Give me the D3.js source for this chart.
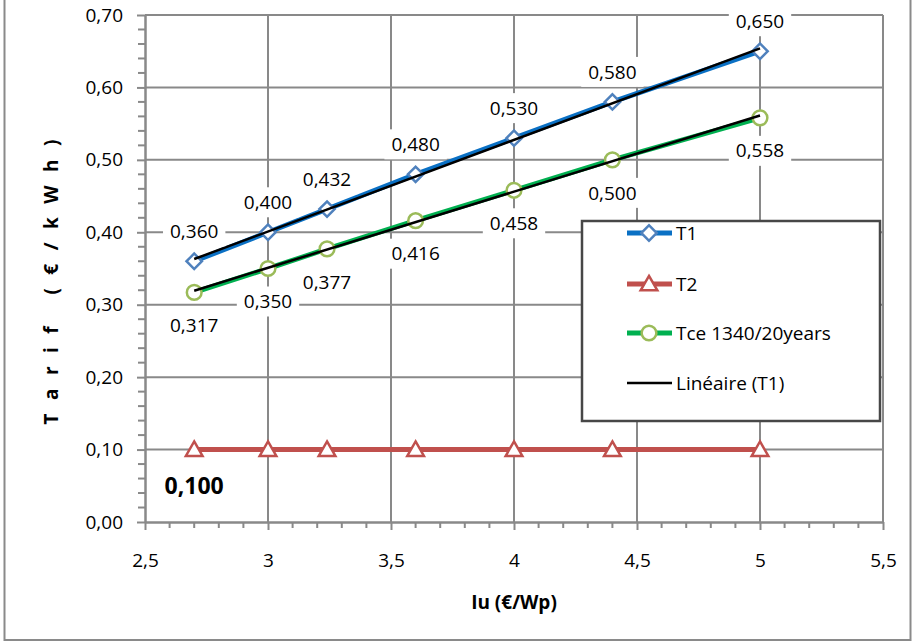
<!DOCTYPE html>
<html>
<head>
<meta charset="utf-8">
<script src="https://cdn.jsdelivr.net/npm/d3@7/dist/d3.min.js"></script>
<style>
  html, body { margin: 0; padding: 0; background: #fff; }
  svg { display: block; font-family: "Open Sans", "Liberation Sans", sans-serif; }
</style>
</head>
<body>
<svg id="chart" width="913" height="642"></svg>
<script>
// Installed unit cost (€/Wp) on the x axis
const iuValues = [2.7, 3, 3.24, 3.6, 4, 4.4, 5];
// Tariff series
const t1Values = [0.360, 0.400, 0.432, 0.480, 0.530, 0.580, 0.650];
const t2Values = [0.100, 0.100, 0.100, 0.100, 0.100, 0.100, 0.100];
const tceValues = [0.317, 0.350, 0.377, 0.416, 0.458, 0.500, 0.558];
// Axis ticks
const xTickValues = [2.5, 3, 3.5, 4, 4.5, 5, 5.5];
const yTickValues = [0, 0.1, 0.2, 0.3, 0.4, 0.5, 0.6, 0.7];
const xMinorTicks = d3.range(25, 56).map(v => v / 10).filter(v => Math.round(v * 10) % 5 !== 0);
const yMinorTicks = d3.range(0, 36).map(v => v / 50).filter(v => Math.round(v * 50) % 5 !== 0);
const legendLabels = ["T1", "T2", "Tce 1340/20years", "Linéaire (T1)"];
const xTitle = "Iu (€/Wp)";
const yTitle = "Tarif (€/kWh)";

const svg = d3.select("#chart");
const plotLeft = 145, plotRight = 883, plotTop = 15, plotBottom = 522;
const x = d3.scaleLinear().domain([2.5, 5.5]).range([plotLeft, plotRight]);
const y = d3.scaleLinear().domain([0, 0.7]).range([plotBottom, plotTop]);

const grid = "#898989";
const comma = s => s.replace(".", ",");
const fmtX = d => comma(d3.format("")(d));
const fmtY = d => comma(d3.format(".2f")(d));
const fmtLabel = d => comma(d3.format(".3f")(d));

// outer frame
svg.append("rect").attr("x", 4.5).attr("y", -2).attr("width", 906).attr("height", 642)
  .attr("fill", "none").attr("stroke", "#8a8a8a").attr("stroke-width", 2);

// gridlines
const g = svg.append("g");
g.selectAll(".vg").data(xTickValues.slice(1)).join("line")
  .attr("x1", d => x(d)).attr("x2", d => x(d)).attr("y1", plotTop).attr("y2", plotBottom)
  .attr("stroke", grid).attr("stroke-width", 2);
g.selectAll(".hg").data(yTickValues.slice(1)).join("line")
  .attr("x1", plotLeft).attr("x2", plotRight).attr("y1", d => y(d)).attr("y2", d => y(d))
  .attr("stroke", grid).attr("stroke-width", 2);

// axes
const yAxis = svg.append("g").attr("transform", `translate(${plotLeft},0)`)
  .call(d3.axisLeft(y).tickValues(yTickValues).tickFormat(fmtY).tickSizeInner(8).tickSizeOuter(0).tickPadding(14));
const xAxis = svg.append("g").attr("transform", `translate(0,${plotBottom})`)
  .call(d3.axisBottom(x).tickValues(xTickValues).tickFormat(fmtX).tickSizeInner(8).tickSizeOuter(0).tickPadding(24));
[yAxis, xAxis].forEach(a => {
  a.select(".domain").attr("stroke", grid).attr("stroke-width", 2.5);
  a.selectAll(".tick line").attr("stroke", grid).attr("stroke-width", 2);
  a.selectAll(".tick text").attr("font-size", 19).attr("fill", "#000")
    .attr("font-family", "'Open Sans', sans-serif");
});
svg.append("g").selectAll("line").data(yMinorTicks).join("line")
  .attr("x1", plotLeft - 7).attr("x2", plotLeft).attr("y1", d => y(d)).attr("y2", d => y(d))
  .attr("stroke", grid).attr("stroke-width", 2);
svg.append("g").selectAll("line").data(xMinorTicks).join("line")
  .attr("x1", d => x(d)).attr("x2", d => x(d)).attr("y1", plotBottom).attr("y2", plotBottom + 6)
  .attr("stroke", grid).attr("stroke-width", 2);

// axis titles
svg.append("text").attr("x", (plotLeft + plotRight) / 2).attr("y", 602).attr("dy", "0.35em")
  .attr("text-anchor", "middle").attr("font-weight", "bold").attr("font-size", 19).text(xTitle);
svg.append("text").attr("transform", "translate(51,282) rotate(-90)").attr("dy", "0.35em")
  .attr("text-anchor", "middle").attr("font-weight", "bold").attr("font-size", 19)
  .attr("textLength", 285).attr("lengthAdjust", "spacing").text(yTitle);

// series
const series = [
  { name: "T1", values: t1Values, line: "#0a70c4", marker: "#4f81bd", symbol: "diamond" },
  { name: "T2", values: t2Values, line: "#c0504d", marker: "#c0504d", symbol: "triangle" },
  { name: "Tce", values: tceValues, line: "#00b050", marker: "#9bbb59", symbol: "circle" }
];
const symbolPath = s => {
  if (s === "diamond") return d3.symbol(d3.symbolSquare, 118)();
  if (s === "triangle") return d3.symbol(d3.symbolTriangle, 120)();
  return d3.symbol(d3.symbolCircle, 170)();
};
const symbolRot = s => s === "diamond" ? 45 : 0;
const line = d3.line().x(d => x(d[0])).y(d => y(d[1]));

series.forEach(s => {
  const pts = iuValues.map((v, i) => [v, s.values[i]]);
  svg.append("path").datum(pts).attr("d", line).attr("fill", "none")
    .attr("stroke", s.line).attr("stroke-width", 5).attr("stroke-linejoin", "round");
  s.pts = pts;
});
series.forEach(s => {
  svg.append("g").selectAll("path").data(s.pts).join("path")
    .attr("d", symbolPath(s.symbol))
    .attr("transform", d => `translate(${x(d[0])},${y(d[1]) + (s.symbol === "triangle" ? 1.5 : 0)}) rotate(${symbolRot(s.symbol)})`)
    .attr("fill", "#fff").attr("stroke", s.marker).attr("stroke-width", 2.5);
});

// linear trendlines (least squares)
function linearFit(xs, ys) {
  const mx = d3.mean(xs), my = d3.mean(ys);
  const b = d3.sum(xs, (v, i) => (v - mx) * (ys[i] - my)) / d3.sum(xs, v => (v - mx) ** 2);
  return v => my + b * (v - mx);
}
[t1Values, tceValues].forEach(vals => {
  const f = linearFit(iuValues, vals);
  const ends = d3.extent(iuValues).map(v => [v, f(v)]);
  svg.append("path").datum(ends).attr("d", line).attr("fill", "none")
    .attr("stroke", "#000").attr("stroke-width", 2.5);
});

// data labels with white background boxes
function label(cx, cy, txt, opts = {}) {
  const gl = svg.append("g");
  const rect = gl.append("rect").attr("fill", "#fff");
  const t = gl.append("text").attr("x", cx).attr("y", cy).attr("dy", "0.35em")
    .attr("text-anchor", "middle").attr("font-size", opts.size || 19)
    .attr("font-weight", opts.bold ? "bold" : "normal").text(txt);
  const bb = t.node().getBBox();
  rect.attr("x", bb.x - 7).attr("y", cy - 15).attr("width", bb.width + 14).attr("height", 30);
}
iuValues.forEach((v, i) => label(x(v), y(t1Values[i]) - 30, fmtLabel(t1Values[i])));
iuValues.forEach((v, i) => label(x(v), y(tceValues[i]) + 33, fmtLabel(tceValues[i])));
label(x(iuValues[0]), y(t2Values[0]) + 36, fmtLabel(t2Values[0]), { bold: true, size: 23 });

// legend
const lg = svg.append("g");
lg.append("rect").attr("x", 582).attr("y", 221).attr("width", 298).attr("height", 200)
  .attr("fill", "#fff").attr("stroke", "#474747").attr("stroke-width", 2.5);
const legendItems = [
  { color: "#0a70c4", marker: "#4f81bd", symbol: "diamond" },
  { color: "#c0504d", marker: "#c0504d", symbol: "triangle" },
  { color: "#00b050", marker: "#9bbb59", symbol: "circle" },
  { color: "#000", marker: null, symbol: null }
];
const legendY = [233, 284, 333, 383];
legendItems.forEach((it, i) => {
  const ly = legendY[i];
  lg.append("line").attr("x1", 627).attr("x2", 672).attr("y1", ly).attr("y2", ly)
    .attr("stroke", it.color).attr("stroke-width", it.marker ? 5 : 2.5);
  if (it.symbol) {
    lg.append("path").attr("d", symbolPath(it.symbol))
      .attr("transform", `translate(649,${ly + (it.symbol === "triangle" ? 1.5 : 0)}) rotate(${symbolRot(it.symbol)})`)
      .attr("fill", "#fff").attr("stroke", it.marker).attr("stroke-width", 2.5);
  }
  lg.append("text").attr("x", 676).attr("y", ly).attr("dy", "0.35em")
    .attr("font-size", 19).text(legendLabels[i]);
});
</script>
</body>
</html>
